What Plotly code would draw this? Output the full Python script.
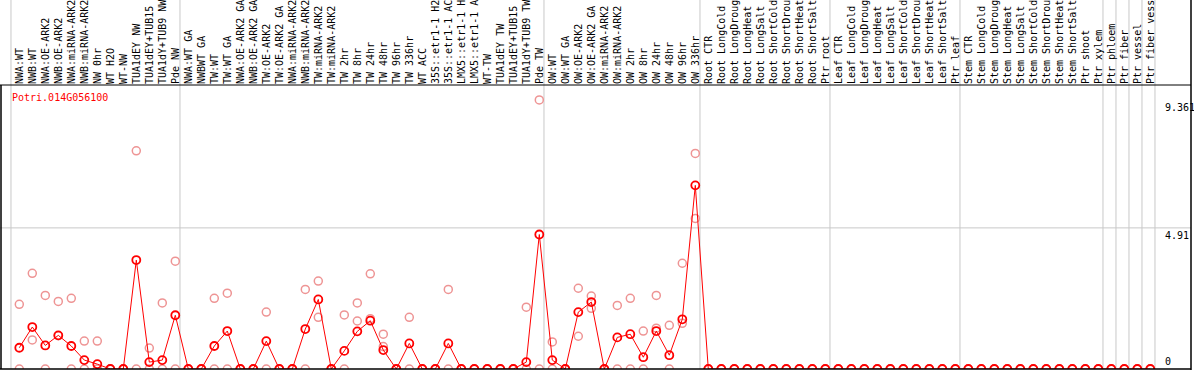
import plotly.graph_objects as go

labels = [
    "NWA:WT", "NWB:WT", "NWA:OE-ARK2", "NWB:OE-ARK2", "NWA:miRNA-ARK2", "NWB:miRNA-ARK2",
    "NW 0hr", "WT H2O", "WT-NW", "TUA1dEY NW", "TUA1dEY+TUB15", "TUA1dY+TUB9 NW", "Pde NW",
    "NWA:WT GA", "NWBWT GA", "TW:WT", "TW:WT GA", "NWA:OE-ARK2 GA", "NWB:OE-ARK2 GA",
    "TW:OE-ARK2", "TW:OE-ARK2 GA", "NWA:miRNA-ARK2", "NWB:miRNA-ARK2", "TW:miRNA-ARK2",
    "TW:miRNA-ARK2", "TW 2hr", "TW 8hr", "TW 24hr", "TW 48hr", "TW 96hr", "TW 336hr", "WT ACC",
    "35S::etr1-1 H2", "35S::etr1-1 AC", "LMX5::etr1-1 H", "LMX5::etr1-1 A", "WT-TW",
    "TUA1dEY TW", "TUA1dEY+TUB15", "TUA1dY+TUB9 TW", "Pde TW",
    "OW:WT", "OW:WT GA", "OW:OE-ARK2", "OW:OE-ARK2 GA", "OW:miRNA-ARK2", "OW:miRNA-ARK2",
    "OW 2hr", "OW 8hr", "OW 24hr", "OW 48hr", "OW 96hr", "OW 336hr",
    "Root CTR", "Root LongCold", "Root LongDroug", "Root LongHeat", "Root LongSalt",
    "Root ShortCold", "Root ShortDrou", "Root ShortHeat", "Root ShortSalt", "Ptr root",
    "Leaf CTR", "Leaf LongCold", "Leaf LongDroug", "Leaf LongHeat", "Leaf LongSalt",
    "Leaf ShortCold", "Leaf ShortDrou", "Leaf ShortHeat", "Leaf ShortSalt", "Ptr leaf",
    "Stem CTR", "Stem LongCold", "Stem LongDroug", "Stem LongHeat", "Stem LongSalt",
    "Stem ShortCold", "Stem ShortDrou", "Stem ShortHeat", "Stem ShortSalt", "Ptr shoot",
    "Ptr xylem", "Ptr phloem", "Ptr fiber", "Ptr vessel", "Ptr fiber vess",
]

mean_vals = [
    0.74, 1.46, 0.82, 1.17, 0.80, 0.31, 0.17, 0, 0, 3.79, 0.24, 0.31, 1.87,
    0, 0, 0.80, 1.32, 0, 0, 0.97, 0, 0, 1.39, 2.42, 0, 0.63, 1.31, 1.68, 0.66, 0, 0.89,
    0, 0, 0.89, 0, 0, 0, 0, 0, 0.24, 4.68,
    0.31, 0, 1.98, 2.33, 0, 1.10, 1.21, 0.41, 1.32, 0.48, 1.73, 6.39,
    0, 0, 0, 0, 0, 0, 0, 0, 0, 0,
    0, 0, 0, 0, 0, 0, 0, 0, 0, 0,
    0, 0, 0, 0, 0, 0, 0, 0, 0, 0, 0,
    0, 0, 0, 0,
]

rep_a = [
    2.25, 3.33, 2.56, 2.35, 2.46, 0.97, 0.97, 0, 0, 7.59, 0.73, 2.30, 3.75,
    0, 0, 2.46, 2.64, 0, 0, 1.98, 0, 0, 2.77, 3.06, 0, 1.88, 2.30, 3.31, 1.21, 0, 1.80,
    0, 0, 2.77, 0, 0, 0, 0, 0, 2.15, 9.361,
    0.94, 0, 2.81, 2.54, 0, 2.21, 2.46, 1.32, 2.56, 1.52, 3.68, 7.50,
    0, 0, 0, 0, 0, 0, 0, 0, 0, 0,
    0, 0, 0, 0, 0, 0, 0, 0, 0, 0,
    0, 0, 0, 0, 0, 0, 0, 0, 0, 0, 0,
    0, 0, 0, 0,
]

rep_b = [
    0, 1.01, 0, 1.16, 0, 0, 0, 0, 0, 0, 0, 0, 0,
    0, 0, 0, 0, 0, 0, 0, 0, 0, 0, 1.80, 0, 0, 1.67, 1.75, 0.78, 0, 0,
    0, 0, 0, 0, 0, 0, 0, 0, 0, 0,
    0, 0, 1.14, 2.11, 0, 0, 0, 0, 1.42, 0, 1.59, 5.24,
    0, 0, 0, 0, 0, 0, 0, 0, 0, 0,
    0, 0, 0, 0, 0, 0, 0, 0, 0, 0,
    0, 0, 0, 0, 0, 0, 0, 0, 0, 0, 0,
    0, 0, 0, 0,
]

group_starts = [0, 13, 41, 53, 63, 73, 84, 85, 86, 87, 88]
y_ticks = [0, 4.91, 9.361]
gene_name = "Potri.014G056100"

FONT = "DejaVu Sans Mono"
W, H = 1194, 370
ML, MR, MT, MB = 1, 3, 85, 1
PW = W - ML - MR
PH = H - MT - MB
STEP = 13.0
X0 = -(19.3 - ML) / STEP
X1 = X0 + PW / STEP
YTOP = PH / 28.74

idx = list(range(len(labels)))

fig = go.Figure()
for reps in (rep_b, rep_a):
    fig.add_trace(go.Scatter(
        x=idx, y=reps, mode="markers",
        marker=dict(symbol="circle-open", size=8, color="#ee9494", line=dict(width=1.5)),
        showlegend=False, hoverinfo="skip",
    ))
fig.add_trace(go.Scatter(
    x=idx, y=mean_vals, mode="lines+markers",
    line=dict(color="#ff0000", width=1),
    marker=dict(symbol="circle-open", size=8, color="#ff0000", line=dict(width=1.8)),
    showlegend=False,
))

top_paper = (H - MB) / PH
shapes = []
for g in group_starts:
    shapes.append(dict(type="line", xref="x", yref="paper", x0=g - 0.64, x1=g - 0.64,
                       y0=0, y1=top_paper, line=dict(color="#c8c8c8", width=1), layer="below"))
shapes.append(dict(type="line", xref="paper", yref="y", x0=-0.01, x1=1, y0=y_ticks[1], y1=y_ticks[1],
                   line=dict(color="#c8c8c8", width=1), layer="below"))
# borders
shapes.append(dict(type="line", xref="paper", yref="paper", x0=-0.01, x1=1, y0=1, y1=1,
                   line=dict(color="black", width=1)))
shapes.append(dict(type="line", xref="paper", yref="paper", x0=-0.01, x1=1, y0=0, y1=0,
                   line=dict(color="black", width=1.5)))
shapes.append(dict(type="line", xref="paper", yref="paper", x0=0, x1=0, y0=0, y1=1,
                   line=dict(color="black", width=1.5)))
shapes.append(dict(type="line", xref="paper", yref="paper", x0=1, x1=1, y0=-0.01, y1=top_paper,
                   line=dict(color="black", width=1.5)))

annotations = [dict(
    text=gene_name, xref="paper", yref="paper", x=(10 - ML) / PW, y=(H - MB - 97) / PH,
    xanchor="left", yanchor="middle", showarrow=False,
    font=dict(family=FONT, size=10, color="#ff0000"),
)]
lab_x = (1163 - ML) / PW
for v in y_ticks:
    txt = f"{v:g}"
    annotations.append(dict(
        text=txt, xref="paper", yref="y", x=lab_x, y=v,
        xanchor="left", yanchor="bottom" if v == 0 else "top", showarrow=False,
        font=dict(family=FONT, size=10, color="black"),
    ))

fig.update_layout(
    width=W, height=H,
    margin=dict(l=ML, r=MR, t=MT, b=MB, pad=0),
    paper_bgcolor="white", plot_bgcolor="white",
    xaxis=dict(
        range=[X0, X1], side="top", tickmode="array", tickvals=idx, ticktext=labels,
        tickangle=-90, tickfont=dict(family=FONT, size=10, color="black"),
        showgrid=False, zeroline=False, showline=False, ticks="", automargin=False,
        ticklabelstandoff=0,
    ),
    yaxis=dict(range=[0, YTOP], showgrid=False, zeroline=False, showticklabels=False,
               showline=False, ticks="", automargin=False),
    shapes=shapes, annotations=annotations,
)

fig.write_html(
    "out.html",
    config={"displayModeBar": False},
    post_script="document.body.style.margin='0';document.body.style.padding='0';",
)
